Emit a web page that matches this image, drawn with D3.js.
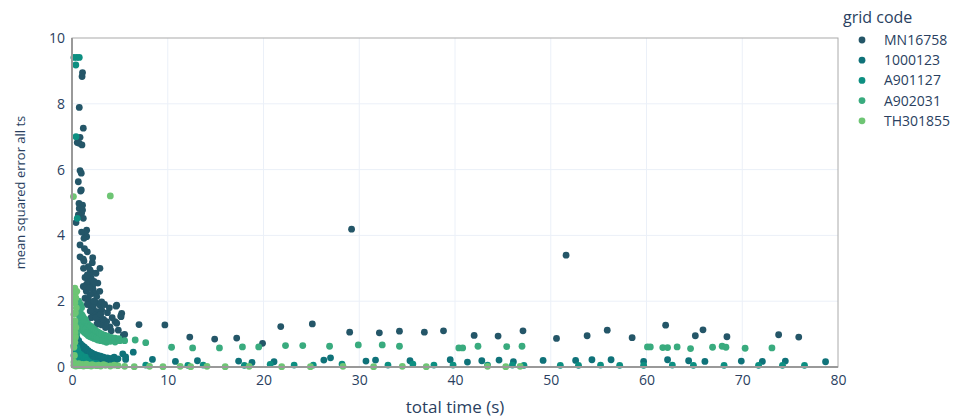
<!DOCTYPE html>
<html><head><meta charset="utf-8">
<script src="https://cdn.jsdelivr.net/npm/d3@7"></script>
<style>body{margin:0;background:#fff;} text{font-family:"Open Sans",sans-serif;}</style>
</head><body><svg id="c" width="958" height="417"></svg>
<script>
const seriesNames = ["MN16758","1000123","A901127","A902031","TH301855"];
const seriesColors = ["rgb(36,86,104)","rgb(15,114,121)","rgb(13,143,129)","rgb(57,171,126)","rgb(110,197,116)"];
const xTicks = [0,10,20,30,40,50,60,70,80];
const yTicks = [0,2,4,6,8,10];

const dataMN16758 = [[1.1,8.95],[1.05,8.83],[0.76,7.89],[1.18,7.26],[0.84,6.98],[0.55,6.82],[0.76,6.80],[1.04,6.75],[0.84,5.97],[0.97,5.89],[0.66,5.63],[0.97,5.38],[0.9,5.35],
[0.73,4.97],[1.1,4.92],[0.76,4.82],[1.1,4.77],[1.0,4.67],[0.66,4.62],[1.18,4.52],[0.42,4.39],
[1.53,4.16],[1.36,4.06],[1.53,3.96],[1.25,3.91],[0.84,3.71],
[0.84,3.35],[1.18,3.28],[1.25,3.22],[2.16,3.32],[2.12,3.17],[2.92,3.0],
[1.7,3.05],[1.88,2.95],[2.06,2.87],[1.36,2.72],[1.7,2.67],[1.95,2.59],[2.16,2.47],[1.53,2.52],[1.18,2.45],[2.22,2.34],[2.4,2.24],[2.58,2.14],
[1.36,2.09],[1.7,2.04],[2.06,1.98],[2.58,1.94],[2.92,1.88],[3.1,1.98],
[2.22,1.78],[2.58,1.68],[2.22,1.58],[3.1,1.73],[2.92,1.48],[2.75,1.38],[3.1,1.28],[3.62,1.38],[3.97,1.22],[4.49,1.38],[4.67,1.88],[5.19,1.63],[5.12,1.53],[4.84,1.12],[5.36,0.97],[4.6,1.85],[5.1,1.55],[4.67,1.33],[5.5,0.99],
[1.5,2.3],[1.9,2.2],[2.0,1.85],[1.6,1.9],[2.4,1.6],[2.8,1.55],[1.9,1.7],[2.3,2.0],[1.4,2.4],[2.7,2.55],[2.5,2.85],[1.2,3.0],[2.0,1.5],[2.6,1.3],[3.3,1.45],
[1.8,2.4],[2.0,2.7],[1.6,2.8],[2.3,2.6],[2.9,2.3],[3.4,1.9],[3.7,1.65],[4.2,1.5],[3.9,1.8],[1.3,3.6],[1.6,3.5],[1.0,4.1],[2.5,1.5],[3.0,1.6],[3.5,1.2],[4.1,1.1],
[7.0,1.29],[9.7,1.28],
[12.3,0.91],[14.9,0.85],[17.2,0.88],[19.9,0.72],[21.8,1.23],[25.1,1.31],[29.0,1.06],[32.1,1.04],[34.2,1.09],[36.8,1.06],[38.8,1.10],[42.0,0.96],[44.5,0.94],[47.1,1.10],[50.6,0.87],[53.8,0.95],[55.9,1.12],[58.5,0.89],[62.0,1.27],[65.1,0.95],[65.9,1.13],[68.4,0.92],[73.8,0.98],[75.9,0.91],[29.2,4.19],[51.6,3.40]];

const data1000123 = [[0.3,0.95],[0.4,0.85],[0.5,0.78],[0.35,0.7],[0.6,0.65],[0.8,0.6],[0.45,0.55],[1.0,0.55],[0.7,0.5],[1.2,0.5],[0.9,0.45],[1.4,0.45],[1.1,0.4],[1.6,0.4],[0.5,0.42],[1.8,0.38],[2.0,0.35],[1.3,0.35],[2.2,0.33],[2.5,0.3],[1.7,0.3],[2.8,0.28],[3.0,0.27],[2.3,0.25],[3.3,0.25],[3.6,0.22],[3.9,0.2],[4.2,0.2],[4.5,0.18],[2.6,0.2],[3.1,0.18],[1.9,0.2],[1.5,0.22],[0.6,0.3],[0.8,0.25],[1.0,0.2],[2.0,0.15],[2.9,0.12],[3.5,0.1],[4.0,0.12],[0.4,0.2],[1.2,0.12],
[0.3,0.6],[0.5,0.9],[0.7,0.8],[0.9,0.7],[1.1,0.65],[1.3,0.6],[1.5,0.55],[1.7,0.5],[1.9,0.45],[2.1,0.42],[2.4,0.38],[2.7,0.35],[3.0,0.33],[3.3,0.3],[3.7,0.28],[4.1,0.26],[0.6,0.45],[0.8,0.35],[1.0,0.3],[1.3,0.25],[1.6,0.3],[2.2,0.22],[2.7,0.16],[3.2,0.14],[3.8,0.15],[0.3,0.4],[0.5,0.15],[0.7,0.2],[4.4,0.3],[4.8,0.25],
[5.3,0.4],[5.6,0.23],[5.6,0.31],[8.4,0.23],[6.4,0.45],
[10.8,0.17],[13.1,0.19],[17.4,0.18],[18.8,0.14],[21.1,0.16],[26.3,0.21],[27.0,0.28],[30.7,0.18],[31.7,0.21],[35.3,0.19],[39.5,0.22],[41.3,0.15],[42.8,0.19],[44.6,0.21],[46.1,0.16],[49.2,0.20],[52.6,0.20],[54.3,0.22],[56.3,0.22],[59.7,0.17],[62.2,0.22],[64.4,0.19],[66.1,0.17],[69.9,0.18],[72.1,0.17],[74.5,0.18],[78.7,0.16]];

const dataA901127 = [[0.2,9.41],[0.5,9.41],[0.76,9.41],[0.4,9.18],[0.42,7.0],[0.55,4.52],
[0.3,0.5],[0.5,0.35],[0.7,0.28],[0.25,0.2],[0.9,0.15],[1.1,0.25],[1.3,0.1],[0.6,0.1],[1.5,0.15],[1.7,0.08],[0.4,0.08],[2.0,0.1],[0.3,0.3],[0.8,0.4],[1.0,0.05],[2.4,0.08],[0.2,0.65],[0.5,0.6],
[0.2,0.35],[0.4,0.45],[0.6,0.5],[0.8,0.2],[1.0,0.35],[1.2,0.2],[1.4,0.3],[1.6,0.2],[1.8,0.15],[2.2,0.12],[2.6,0.1],[0.3,0.12],[0.7,0.05],[1.9,0.05],[0.25,0.8],[0.35,1.0],
[7.7,0.06],[12.1,0.05],[13.7,0.06],[18.0,0.05],[20.7,0.08],[23.2,0.06],[25.2,0.06],[28.2,0.09],[33.0,0.06],[35.6,0.09],[37.8,0.06],[39.8,0.06],[43.4,0.06],[46.0,0.06],[47.2,0.05],[51.0,0.05],[52.9,0.05],[55.2,0.06],[57.2,0.05],[59.7,0.05],[62.7,0.06],[64.9,0.05],[68.1,0.05],[71.7,0.05],[74.2,0.05],[76.5,0.05]];

const dataA902031 = [[0.6,1.85],[0.7,1.6],[0.8,1.5],[0.9,1.45],[1.0,1.4],[1.1,1.35],[1.2,1.3],[1.3,1.25],[1.4,1.22],[1.5,1.2],[1.6,1.15],[1.7,1.12],[1.8,1.1],[2.0,1.08],[2.2,1.05],[2.4,1.0],[2.6,0.98],[2.8,0.95],[3.0,0.92],[3.2,0.9],[3.4,0.88],[3.6,0.86],[3.8,0.85],[4.0,0.83],[4.3,0.82],[4.6,0.8],[5.0,0.8],[5.5,0.8],
[0.9,1.2],[1.1,1.1],[1.3,1.05],[1.5,1.0],[1.7,0.95],[1.9,0.92],[2.1,0.9],[2.3,0.87],[2.5,0.85],[2.7,0.82],[3.0,0.8],[3.3,0.78],[3.6,0.75],[0.6,1.3],[0.7,1.15],[0.5,1.0],[0.4,1.1],[1.2,1.5],[1.4,1.45],[1.0,1.6],
[0.8,1.3],[1.0,1.25],[1.2,1.2],[1.4,1.15],[1.6,1.05],[1.8,1.0],[2.0,0.97],[2.2,0.95],[2.4,0.92],[2.6,0.9],[2.8,0.88],[3.2,0.84],[3.5,0.82],[4.0,0.78],[4.5,0.76],[1.1,1.55],[1.3,1.4],[1.5,1.35],[1.7,1.3],[1.9,1.25],[2.1,1.2],[2.3,1.15],[2.5,1.1],[2.7,1.07],[2.9,1.03],[3.1,1.0],[3.4,0.97],[3.7,0.94],[4.1,0.9],[4.5,0.88],[4.9,0.86],[0.8,1.7],[0.9,1.9],[1.0,1.8],[0.7,2.0],
[6.6,0.82],[7.7,0.74],
[10.4,0.60],[12.6,0.58],[15.4,0.58],[17.8,0.61],[19.5,0.61],[22.3,0.65],[24.1,0.65],[26.9,0.63],[29.9,0.67],[32.4,0.67],[34.2,0.63],[40.4,0.58],[40.8,0.58],[42.4,0.63],[45.4,0.62],[47.0,0.63],[60.1,0.61],[60.4,0.61],[61.7,0.59],[62.2,0.59],[63.2,0.61],[64.6,0.56],[66.9,0.60],[67.9,0.63],[68.3,0.60],[70.3,0.57],[73.1,0.58]];

const dataTH301855 = [[0.15,5.18],[4.0,5.2],[0.3,2.4],[0.35,2.25],[0.4,2.1],[0.3,1.95],[0.45,1.8],[0.35,1.65],[0.3,1.4],[0.4,1.2],[0.3,1.05],[0.35,0.9],[0.5,2.3],
[0.2,1.6],[0.25,1.3],[0.3,0.75],[0.2,0.6],[0.25,0.35],[0.2,0.15],
[0.2,0.05],[0.4,0.03],[0.6,0.06],[0.8,0.04],[1.0,0.05],[1.2,0.03],[1.4,0.05],[1.6,0.04],[1.8,0.06],[2.0,0.03],[2.3,0.05],[2.6,0.04],[3.0,0.03],[3.5,0.05],[4.0,0.03],[4.8,0.04],[5.5,0.02],[6.5,0.01],[8.1,0.02],[9.5,0.01],
[0.3,0.08],[0.7,0.1],[1.1,0.08],[1.5,0.09],[2.1,0.07],[2.8,0.06],[3.3,0.07],[4.4,0.06],
[11.3,0.02],[12.4,0.01],[14.1,0.02],[16.0,0.01],[18.5,0.02],[21.9,0.01],[24.9,0.01],[28.3,0.02],[31.5,0.01],[34.5,0.02],[37.0,0.01],[43.4,0.02],[45.3,0.01],[46.8,0.02]];

const seriesData = [dataMN16758, data1000123, dataA901127, dataA902031, dataTH301855];

const svg = d3.select("#c");
svg.append("rect").attr("width",958).attr("height",417).attr("fill","#fff");
const L=72, R=838, T=38, B=367;
const x = d3.scaleLinear().domain([0,80]).range([L,R]);
const y = d3.scaleLinear().domain([0,10]).range([B,T]);
const txt = "#2a3f5f";

svg.append("g").selectAll("line").data(xTicks.slice(1,-1)).join("line")
  .attr("x1",d=>x(d)).attr("x2",d=>x(d)).attr("y1",T).attr("y2",B)
  .attr("stroke","#EBF0F8").attr("stroke-width",1);
svg.append("g").selectAll("line").data(yTicks.slice(1,-1)).join("line")
  .attr("y1",d=>y(d)).attr("y2",d=>y(d)).attr("x1",L).attr("x2",R)
  .attr("stroke","#EBF0F8").attr("stroke-width",1);

svg.append("rect").attr("x",L).attr("y",T).attr("width",R-L).attr("height",B-T)
  .attr("fill","none").attr("stroke","#aaa").attr("stroke-width",1);

const xAxis = d3.axisBottom(x).tickValues(xTicks).tickSize(0).tickPadding(8);
const gx = svg.append("g").attr("transform",`translate(0,${B})`).call(xAxis);
gx.select(".domain").remove();
gx.selectAll("text").attr("fill",txt).style("font-size","14px").style("font-family","'Open Sans',sans-serif");
const yAxis = d3.axisLeft(y).tickValues(yTicks).tickSize(0).tickPadding(7);
const gy = svg.append("g").attr("transform",`translate(${L},0)`).call(yAxis);
gy.select(".domain").remove();
gy.selectAll("text").attr("fill",txt).style("font-size","14px").style("font-family","'Open Sans',sans-serif");

seriesData.forEach((arr,i)=>{
  svg.append("g").selectAll("circle").data(arr).join("circle")
    .attr("cx",d=>x(d[0])).attr("cy",d=>y(d[1])).attr("r",3.4)
    .attr("fill",seriesColors[i]);
});

svg.append("line").attr("x1",L).attr("x2",L).attr("y1",T).attr("y2",B+1).attr("stroke","#999").attr("stroke-width",2);
svg.append("line").attr("x1",L-1).attr("x2",R).attr("y1",B).attr("y2",B).attr("stroke","#999").attr("stroke-width",2);

svg.append("text").attr("x",455).attr("y",413).attr("text-anchor","middle")
  .attr("fill",txt).style("font-size","17px").text("total time (s)");
svg.append("text").attr("transform",`translate(25,192.5) rotate(-90)`).attr("text-anchor","middle")
  .attr("fill",txt).style("font-size","13px").text("mean squared error all ts");

svg.append("text").attr("x",843).attr("y",23).attr("fill",txt).style("font-size","16px").text("grid code");
const lg = svg.append("g").selectAll("g").data(seriesNames).join("g")
  .attr("transform",(d,i)=>`translate(0,${40+i*20.2})`);
lg.append("circle").attr("cx",862).attr("cy",0).attr("r",3.4).attr("fill",(d,i)=>seriesColors[i]);
lg.append("text").attr("x",884).attr("y",5).attr("fill",txt).style("font-size","14px").text(d=>d);
</script></body></html>
